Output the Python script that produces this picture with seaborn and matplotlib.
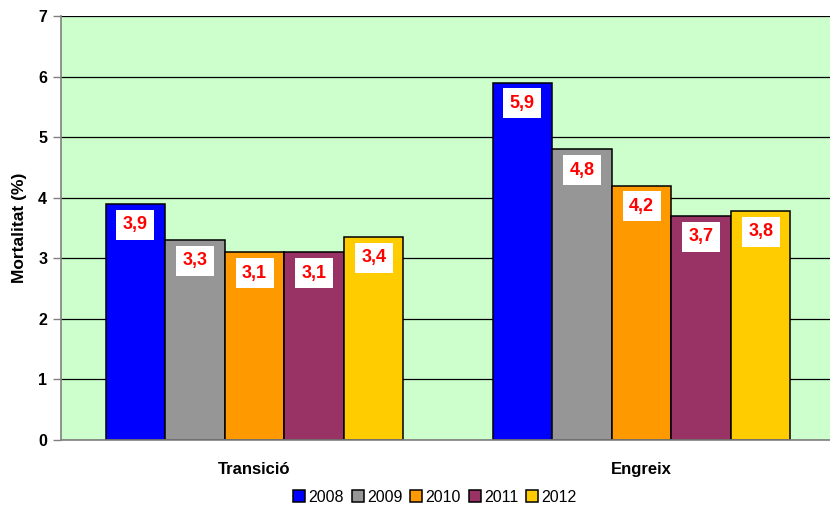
import matplotlib
matplotlib.use("Agg")
import matplotlib.pyplot as plt
import seaborn as sns
import pandas as pd

categories = ["Transició", "Engreix"]
years = ["2008", "2009", "2010", "2011", "2012"]
transicio = [3.9, 3.3, 3.1, 3.1, 3.35]
engreix = [5.9, 4.8, 4.2, 3.7, 3.78]
label_transicio = ["3,9", "3,3", "3,1", "3,1", "3,4"]
label_engreix = ["5,9", "4,8", "4,2", "3,7", "3,8"]
colors = ["#0000FF", "#969696", "#FF9900", "#993366", "#FFCC00"]
yticks = [0, 1, 2, 3, 4, 5, 6, 7]

rows = []
for cat, vals, labs in [("Transició", transicio, label_transicio), ("Engreix", engreix, label_engreix)]:
    for y, v, l in zip(years, vals, labs):
        rows.append({"cat": cat, "year": y, "val": v, "lab": l})
df = pd.DataFrame(rows)

sns.set_style("white")
plt.rcParams["font.family"] = ["Liberation Sans", "DejaVu Sans"]
plt.rcParams["text.color"] = "black"
plt.rcParams["axes.labelcolor"] = "black"
plt.rcParams["xtick.color"] = "black"
plt.rcParams["ytick.color"] = "black"

fig = plt.figure(figsize=(8.3, 5.08), dpi=100)
ax = fig.add_axes([61 / 830, 1 - 440 / 508, 774 / 830, 424 / 508])
ax.set_facecolor("#CCFFCC")

sns.barplot(data=df, x="cat", y="val", hue="year", order=categories, hue_order=years,
            palette=colors, width=0.77, gap=0, edgecolor="black", linewidth=1.1,
            saturation=1, ax=ax, legend=True, errorbar=None)

ax.set_ylim(0, 7)
ax.set_xlim(-0.5, 1.5)
ax.set_yticks(yticks)
ax.set_yticklabels([str(t) for t in yticks], fontsize=11.5, fontweight="bold")
ax.set_xticks([0, 1])
ax.set_xticklabels(categories, fontsize=12, fontweight="bold")
ax.set_xticks([-0.5, 0.5, 1.5], minor=True)
ax.tick_params(axis="x", which="major", length=0, pad=16)
ax.tick_params(axis="x", which="minor", length=6, width=1, color="#808080", direction="out")
ax.tick_params(axis="y", length=6, width=1, color="#808080", labelcolor="black",
               direction="out", left=True, pad=4)
ax.set_xlabel("")
ax.set_ylabel("Mortalitat (%)", fontsize=12.5, fontweight="bold", labelpad=8)

ax.yaxis.grid(True, color="black", linewidth=0.9)
ax.set_axisbelow(True)
for s in ["top", "right"]:
    ax.spines[s].set_visible(False)
for s in ["left", "bottom"]:
    ax.spines[s].set_color("#808080")
    ax.spines[s].set_linewidth(1.2)

# labels
for i, cont in enumerate(ax.containers):
    labs = [df[(df.cat == c) & (df.year == years[i])].lab.iloc[0] for c in categories]
    for bar, lab in zip(cont, labs):
        xc = bar.get_x() + bar.get_width() / 2
        ax.annotate(lab, (xc, bar.get_height()), xytext=(0, -15), textcoords="offset points",
                    ha="center", va="center", color="#FF0000", fontsize=13, fontweight="bold",
                    bbox=dict(boxstyle="square,pad=0.36", facecolor="white", edgecolor="none"))

handles, labels = ax.get_legend_handles_labels()
ax.get_legend().remove()
fig.legend(handles, labels, loc="center", bbox_to_anchor=(435 / 830, 1 - 497 / 508), ncol=5,
           frameon=False, fontsize=11.5, handlelength=0.75, handleheight=0.75,
           handletextpad=0.2, columnspacing=0.5, borderaxespad=0)

fig.savefig("out.png", dpi=100)
